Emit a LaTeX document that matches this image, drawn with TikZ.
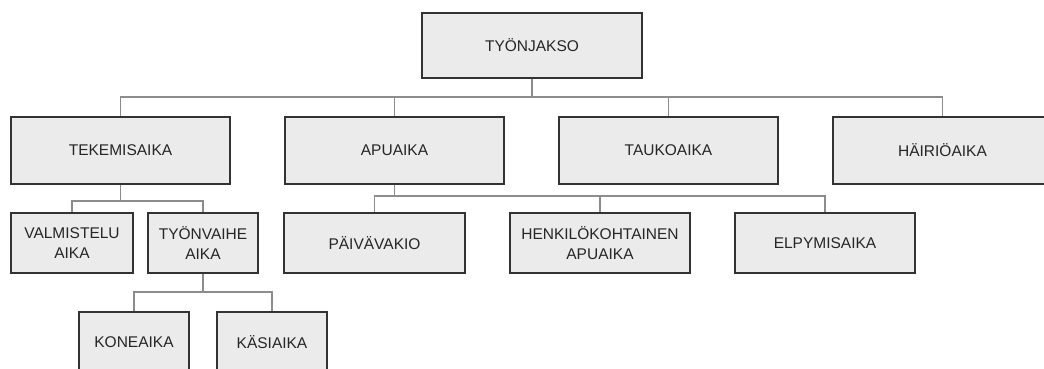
\documentclass[tikz,border=0pt]{standalone}
\usepackage{fontspec}
\setmainfont{Liberation Sans}
\definecolor{boxfill}{HTML}{EBEBEB}
\definecolor{boxline}{HTML}{333333}
\definecolor{linkline}{HTML}{8C8C8C}
\definecolor{labeltext}{HTML}{262626}
\begin{document}
\begin{tikzpicture}[x=1pt,y=-1pt,
  unit/.style={draw=boxline, line width=1.3pt, fill=boxfill, rectangle,
    inner sep=0pt, align=center, text=labeltext,
    font=\fontsize{15.5}{20}\selectfont},
  big/.style={unit, minimum width=219pt, minimum height=67pt},
  small/.style={unit, minimum height=60pt},
  link/.style={draw=linkline, line width=1.3pt}]
\useasboundingbox (0,0) rectangle (1044,368);
\clip (0,0) rectangle (1044,368);

% bus levels
\coordinate (busTop) at (0,97);
\coordinate (busTek) at (0,201);
\coordinate (busApu) at (0,196);
\coordinate (busTyo) at (0,292);

% top level
\node[unit, minimum width=220pt, minimum height=65pt] (root) at (532,45.5) {TYÖNJAKSO};

% main categories
\node[big] (tek) at (120.5,150.5) {TEKEMISAIKA};
\node[big] (apu) at (394.5,150.5) {APUAIKA};
\node[big] (tau) at (668.5,150.5) {TAUKOAIKA};
\node[big] (hai) at (942.5,150.5) {HÄIRIÖAIKA};

% sub categories
\node[small, minimum width=122pt] (val) at (72,243) {VALMISTELU\\AIKA};
\node[small, minimum width=110pt] (tyo) at (203,243) {TYÖNVAIHE\\AIKA};
\node[small, minimum width=181pt] (pai) at (374.5,243) {PÄIVÄVAKIO};
\node[small, minimum width=180pt] (hen) at (600,243) {HENKILÖKOHTAINEN\\APUAIKA};
\node[small, minimum width=180pt] (elp) at (825,243) {ELPYMISAIKA};

\node[small, minimum width=110pt] (kon) at (134,342) {KONEAIKA};
\node[small, minimum width=110pt] (kas) at (272,342) {KÄSIAIKA};

% connectors
\foreach \c in {tek,apu,tau,hai}
  \draw[link] (root.south) -- (root.south |- busTop) -| (\c.north);
\foreach \c in {val,tyo}
  \draw[link] (tek.south) -- (tek.south |- busTek) -| (\c.north);
\foreach \c in {pai,hen,elp}
  \draw[link] (apu.south) -- (apu.south |- busApu) -| (\c.north);
\foreach \c in {kon,kas}
  \draw[link] (tyo.south) -- (tyo.south |- busTyo) -| (\c.north);
\end{tikzpicture}
\end{document}
